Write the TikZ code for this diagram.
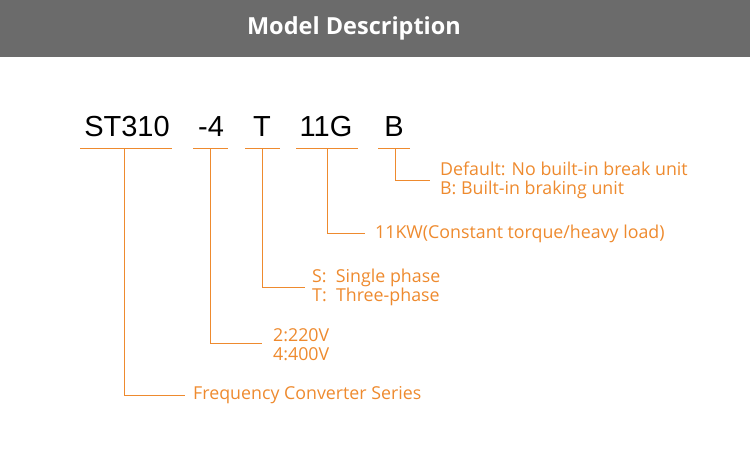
\documentclass[tikz,border=0pt]{standalone}
\usepackage{fontspec}
\setmainfont{Open Sans}
\newfontfamily\codefont{Liberation Sans}
\definecolor{org}{HTML}{EE8A2E}
\definecolor{hdr}{HTML}{6B6B6B}
\begin{document}
\begin{tikzpicture}[x=1pt,y=-1pt,
  code/.style={font=\codefont\fontsize{29}{30}\selectfont,text=black,inner sep=0pt},
  lbl/.style={font=\fontsize{17.8}{19}\selectfont,text=org,anchor=west,inner sep=0pt,align=left},
  ln/.style={draw=org,line width=0.8pt}]
\useasboundingbox (0,0) rectangle (750,475);
\fill[hdr] (0,0) rectangle (750,57);
\node[font=\fontsize{23.5}{26}\selectfont\bfseries,text=white] (title) at (354,28) {Model Description};
\node[code] (c1) at (127,127) {ST310};
\node[code] (c2) at (211,127) {-4};
\node[code] (c3) at (262,127) {T};
\node[code] (c4) at (326,127) {11G};
\node[code] (c5) at (394,127) {B};
\draw[ln] (80,148) -- (172,148);
\draw[ln] (193,148) -- (228,148);
\draw[ln] (245,148) -- (280,148);
\draw[ln] (296,148) -- (358,148);
\draw[ln] (378,148) -- (410,148);
\node[lbl] (l5) at (440,180) {Default: No built-in break unit\\B: Built-in braking unit};
\node[lbl] (l4) at (375,234) {11KW(Constant torque/heavy load)};
\node[lbl] (l3) at (312,287) {S:\ \ Single phase\\T:\ \ Three-phase};
\node[lbl] (l2) at (273,345) {2:220V\\4:400V};
\node[lbl] (l1) at (193,395) {Frequency Converter Series};
\coordinate (e5) at (430,180);
\coordinate (e4) at (365,233);
\coordinate (e3) at (305,287);
\coordinate (e2) at (262,343);
\coordinate (e1) at (185,395);
\draw[ln] (395,148) |- (e5);
\draw[ln] (327,148) |- (e4);
\draw[ln] (262,148) |- (e3);
\draw[ln] (210,148) |- (e2);
\draw[ln] (124,148) |- (e1);
\end{tikzpicture}
\end{document}
